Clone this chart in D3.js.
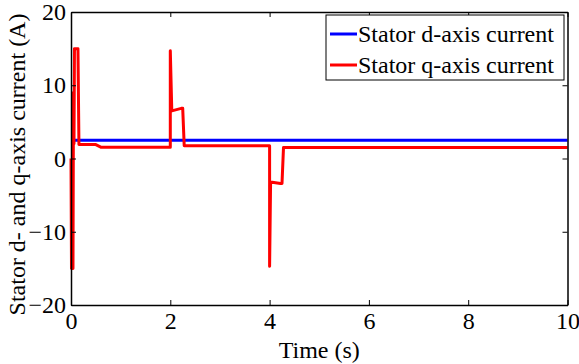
<!DOCTYPE html>
<html><head><meta charset="utf-8">
<script src="https://cdn.jsdelivr.net/npm/d3@7/dist/d3.min.js"></script>
<style>body{margin:0;background:#fff}svg{display:block}</style>
</head><body><svg id="c" width="579" height="364"></svg>
<script>
const xTicks = [0, 2, 4, 6, 8, 10];
const yTicks = [-20, -10, 0, 10, 20];
const seriesNames = ["Stator d-axis current", "Stator q-axis current"];
const dTime = [0, 10];
const dValue = [2.5, 2.5];
const qTime = [0, 0.01, 0.04, 0.05, 0.06, 0.07, 0.14, 0.16, 0.5, 0.6, 2.0, 2.0, 2.03, 2.22, 2.25, 2.28, 4.0, 4.0, 4.02, 4.22, 4.25, 4.28, 10];
const qValue = [0, -15, -15, 9, 2, 15, 15, 1.9, 1.9, 1.55, 1.55, 14.7, 6.5, 6.85, 6.85, 1.75, 1.75, -14.7, -3.2, -3.4, -3.4, 1.5, 1.5];

const FONT = "'Liberation Serif', Tinos, 'Times New Roman', Times, 'DejaVu Serif', serif";
const svg = d3.select("#c").attr("font-family", FONT);
const L = 71, R = 567.5, T = 12, B = 305;
const x = d3.scaleLinear().domain([0, 10]).range([L, R]);
const y = d3.scaleLinear().domain([-20, 20]).range([B, T]);
const fs = 24;

const line = d3.line().x(d => x(d[0])).y(d => y(d[1]));
svg.append("path").datum(dTime.map((t, i) => [t, dValue[i]]))
  .attr("d", line).attr("fill", "none").attr("stroke", "#0000ff").attr("stroke-width", 3);
svg.append("path").datum(qTime.map((t, i) => [t, qValue[i]]))
  .attr("d", line).attr("fill", "none").attr("stroke", "#ff0000").attr("stroke-width", 3).attr("stroke-linejoin", "round");

const gB = svg.append("g").attr("transform", `translate(0,${B})`)
  .call(d3.axisBottom(x).tickValues(xTicks).tickSizeInner(-5).tickSizeOuter(0).tickPadding(7));
const gT = svg.append("g").attr("transform", `translate(0,${T})`)
  .call(d3.axisTop(x).tickValues(xTicks).tickSizeInner(-5).tickSizeOuter(0).tickFormat(""));
const gL = svg.append("g").attr("transform", `translate(${L},0)`)
  .call(d3.axisLeft(y).tickValues(yTicks).tickSizeInner(-5).tickSizeOuter(0).tickPadding(8));
const gR = svg.append("g").attr("transform", `translate(${R},0)`)
  .call(d3.axisRight(y).tickValues(yTicks).tickSizeInner(-5).tickSizeOuter(0).tickFormat(""));
[gB, gT, gL, gR].forEach(g => {
  g.attr("font-family", FONT).attr("font-size", fs);
  g.select(".domain").attr("stroke", "#000").attr("stroke-width", 1.5);
  g.selectAll(".tick line").attr("stroke", "#000");
  g.selectAll("text").attr("fill", "#000");
});
gB.selectAll("text").attr("dy", "0.7em");
gL.selectAll("text").attr("dx", "3");

svg.append("text").attr("x", (L + R) / 2).attr("y", 358).attr("text-anchor", "middle")
  .attr("font-size", fs).text("Time (s)");
svg.append("text").attr("transform", `translate(25,${(T + B) / 2 + 6}) rotate(-90)`).attr("text-anchor", "middle")
  .attr("font-size", fs).text("Stator d- and q-axis current (A)");

const lg = svg.append("g");
lg.append("rect").attr("x", 326).attr("y", 15).attr("width", 238).attr("height", 65)
  .attr("fill", "#fff").attr("stroke", "#000").attr("stroke-width", 1);
const colors = ["#0000ff", "#ff0000"];
seriesNames.forEach((n, i) => {
  const yy = 34 + i * 31;
  lg.append("line").attr("x1", 330).attr("x2", 357).attr("y1", yy).attr("y2", yy)
    .attr("stroke", colors[i]).attr("stroke-width", 3);
  lg.append("text").attr("x", 358).attr("y", yy + 8).attr("font-size", fs).text(n);
});
</script></body></html>
